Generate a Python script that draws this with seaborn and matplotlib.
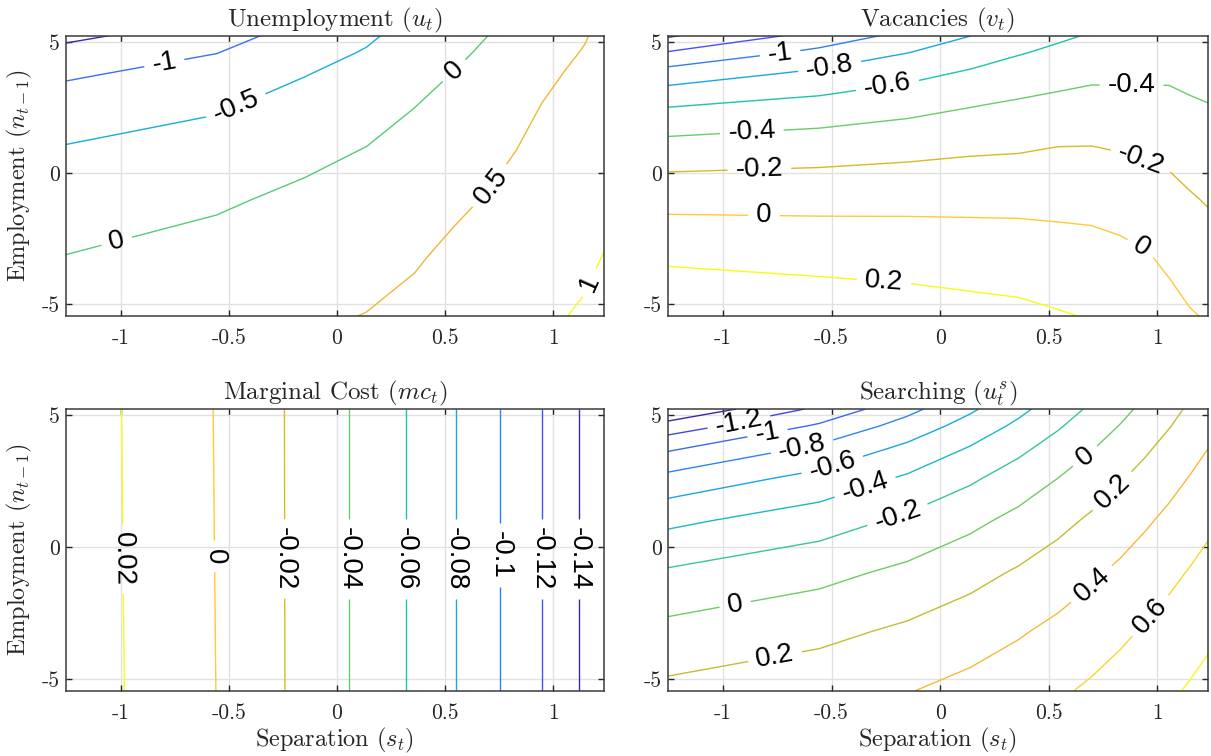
import numpy as np
import matplotlib
matplotlib.use("Agg")
import matplotlib.pyplot as plt
from matplotlib.colors import LinearSegmentedColormap
import seaborn as sns

# ---------------------------------------------------------
# Policy functions on the (separation, lagged employment) grid
# ---------------------------------------------------------
s_grid = [-1.255, -0.556, -0.150, 0.137, 0.360, 0.542, 0.696, 0.830, 0.947, 1.053, 1.148, 1.234]
n_grid = [-5.45, -3.2, -1.0, 1.0, 2.6, 3.8, 4.6, 5.24]
n_grid_mc = [-5.45, 5.24]

# unemployment u_t (rows = n_grid, cols = s_grid)
unemp = [
    [0.194, 0.339, 0.439, 0.511, 0.600, 0.711, 0.780, 0.859, 0.941, 0.994, 1.036, 1.098],
    [0.010, 0.159, 0.277, 0.361, 0.464, 0.579, 0.658, 0.745, 0.836, 0.895, 0.941, 1.008],
    [-0.215, -0.058, 0.087, 0.188, 0.310, 0.431, 0.521, 0.620, 0.722, 0.788, 0.838, 0.912],
    [-0.483, -0.305, -0.123, 0.002, 0.145, 0.276, 0.379, 0.492, 0.607, 0.679, 0.735, 0.817],
    [-0.773, -0.560, -0.331, -0.181, -0.010, 0.132, 0.250, 0.377, 0.504, 0.584, 0.645, 0.734],
    [-1.072, -0.806, -0.521, -0.343, -0.145, 0.011, 0.142, 0.282, 0.420, 0.506, 0.572, 0.667],
    [-1.345, -1.011, -0.672, -0.467, -0.245, -0.079, 0.063, 0.213, 0.360, 0.451, 0.520, 0.620],
    [-1.621, -1.199, -0.801, -0.571, -0.328, -0.152, -0.003, 0.158, 0.313, 0.408, 0.480, 0.583],
]

# vacancies v_t
vac = [
    [0.360, 0.318, 0.292, 0.264, 0.246, 0.215, 0.190, 0.178, 0.146, 0.070, 0.015, -0.014],
    [0.171, 0.143, 0.128, 0.113, 0.103, 0.085, 0.078, 0.051, 0.016, -0.037, -0.084, -0.111],
    [-0.059, -0.058, -0.053, -0.051, -0.050, -0.054, -0.064, -0.086, -0.113, -0.142, -0.182, -0.215],
    [-0.328, -0.291, -0.259, -0.232, -0.221, -0.199, -0.197, -0.213, -0.235, -0.248, -0.287, -0.315],
    [-0.616, -0.534, -0.467, -0.411, -0.373, -0.347, -0.331, -0.335, -0.342, -0.347, -0.374, -0.395],
    [-0.914, -0.759, -0.657, -0.574, -0.514, -0.471, -0.440, -0.437, -0.433, -0.432, -0.458, -0.476],
    [-1.188, -0.949, -0.804, -0.703, -0.614, -0.562, -0.520, -0.525, -0.513, -0.500, -0.520, -0.530],
    [-1.424, -1.130, -0.940, -0.803, -0.698, -0.631, -0.586, -0.591, -0.573, -0.550, -0.565, -0.570],
]

# marginal cost mc_t
mc = [
    [0.0328, -0.0002, -0.0257, -0.0456, -0.0631, -0.0793, -0.0939, -0.1074, -0.1197, -0.1321, -0.1435, -0.1545],
    [0.0322, -0.0008, -0.0257, -0.0456, -0.0631, -0.0793, -0.0939, -0.1074, -0.1197, -0.1321, -0.1435, -0.1545],
]

# searching u^s_t
search = [
    [0.246, 0.322, 0.392, 0.457, 0.517, 0.574, 0.628, 0.679, 0.727, 0.773, 0.817, 0.858],
    [0.058, 0.150, 0.234, 0.310, 0.381, 0.446, 0.508, 0.566, 0.620, 0.671, 0.720, 0.765],
    [-0.171, -0.055, 0.048, 0.140, 0.224, 0.301, 0.372, 0.439, 0.502, 0.559, 0.613, 0.664],
    [-0.444, -0.292, -0.161, -0.047, 0.054, 0.146, 0.230, 0.307, 0.377, 0.443, 0.505, 0.562],
    [-0.739, -0.536, -0.370, -0.230, -0.107, 0.002, 0.097, 0.186, 0.265, 0.340, 0.408, 0.471],
    [-1.044, -0.773, -0.565, -0.395, -0.251, -0.126, -0.016, 0.083, 0.172, 0.254, 0.328, 0.397],
    [-1.321, -0.973, -0.721, -0.523, -0.360, -0.221, -0.100, 0.008, 0.104, 0.191, 0.271, 0.344],
    [-1.601, -1.157, -0.858, -0.633, -0.451, -0.299, -0.168, -0.053, 0.049, 0.142, 0.226, 0.302],
]

u_levels = [-1.5, -1.0, -0.5, 0.0, 0.5, 1.0]
v_levels = [-1.4, -1.2, -1.0, -0.8, -0.6, -0.4, -0.2, 0.0, 0.2]
mc_levels = [-0.14, -0.12, -0.10, -0.08, -0.06, -0.04, -0.02, 0.0, 0.02]
us_levels = [-1.4, -1.2, -1.0, -0.8, -0.6, -0.4, -0.2, 0.0, 0.2, 0.4, 0.6, 0.8]

# label anchor points (data coords) for the inline contour labels
u_lab = [(-0.80, 4.25), (-0.47, 2.6), (0.547, 3.87), (-1.018, -2.62), (0.727, -0.59), (1.176, -4.21)]
v_lab = [(-0.735, 4.44), (-0.506, 3.93), (-0.241, 3.27), (-0.867, 1.55), (0.881, 3.45),
         (-0.832, 0.18), (0.922, 0.47), (-0.811, -1.60), (0.922, -2.88), (-0.259, -4.15)]
mc_lab = [(-0.99, -0.45), (-0.565, -0.35), (-0.237, -0.45), (0.06, -0.45), (0.322, -0.45),
          (0.55, -0.45), (0.757, -0.3), (0.95, -0.45), (1.12, -0.45)]
us_lab = [(-0.926, 4.74), (-0.794, 4.30), (-0.635, 3.80), (-0.494, 3.04), (-0.344, 2.23),
          (-0.194, 1.16), (0.670, 3.42), (-0.944, -2.18), (0.802, 2.04), (-0.758, -4.25),
          (0.705, -1.48), (0.979, -2.68)]

# MATLAB-like parula (level range mapped onto the map)
parula = LinearSegmentedColormap.from_list("parula", [
    (0.000, (0.243, 0.150, 0.660)),
    (0.125, (0.280, 0.330, 0.960)),
    (0.250, (0.190, 0.500, 0.960)),
    (0.375, (0.090, 0.660, 0.890)),
    (0.500, (0.110, 0.760, 0.700)),
    (0.625, (0.400, 0.800, 0.420)),
    (0.750, (0.840, 0.730, 0.140)),
    (0.815, (0.970, 0.720, 0.220)),
    (0.875, (0.990, 0.790, 0.210)),
    (0.940, (0.970, 0.880, 0.150)),
    (1.000, (0.976, 0.984, 0.080))])

sns.set_style("white")
plt.rcParams.update({
    'font.family': 'serif',
    'font.serif': ['cmr10'],
    'mathtext.fontset': 'cm',
    'axes.formatter.use_mathtext': True,
    'axes.unicode_minus': False,
    'axes.edgecolor': '#3a3a3a',
    'axes.linewidth': 1.1,
    'xtick.direction': 'in',
    'ytick.direction': 'in',
    'xtick.top': True,
    'ytick.right': True,
    'xtick.bottom': True,
    'ytick.left': True,
    'xtick.major.size': 4,
    'ytick.major.size': 4,
    'xtick.major.width': 1.0,
    'ytick.major.width': 1.0,
    'xtick.color': '#262626',
    'ytick.color': '#262626',
})


def fmt(v):
    v = round(v, 4)
    return '0' if v == 0 else f'{v:g}'


fig = plt.figure(figsize=(12.11, 7.56), dpi=100)

panels = [
    ([0.0543, 0.5816, 0.4441, 0.3712], unemp, n_grid, u_levels, u_lab, r'Unemployment ($u_t$)', True, False),
    ([0.5512, 0.5816, 0.4466, 0.3712], vac, n_grid, v_levels, v_lab, r'Vacancies ($v_t$)', False, False),
    ([0.0543, 0.0864, 0.4441, 0.3726], mc, n_grid_mc, mc_levels, mc_lab, r'Marginal Cost ($mc_t$)', True, True),
    ([0.5512, 0.0864, 0.4466, 0.3726], search, n_grid, us_levels, us_lab, r'Searching ($u_t^s$)', False, True),
]

for rect, Z, ygrid, levels, lab, title, ylab, xlab in panels:
    ax = fig.add_axes(rect)
    Z = np.array(Z)
    cs = ax.contour(s_grid, ygrid, Z, levels=levels, cmap=parula, linewidths=1.0)
    with plt.rc_context({'font.family': 'Liberation Sans'}):
        ax.clabel(cs, inline=True, inline_spacing=8, fmt=fmt, fontsize=20,
                  colors='k', manual=lab)

    ax.set_xlim(-1.255, 1.234)
    ax.set_ylim(-5.45, 5.24)
    ax.set_xticks([-1, -0.5, 0, 0.5, 1])
    ax.set_xticklabels(['-1', '-0.5', '0', '0.5', '1'])
    ax.set_yticks([-5, 0, 5])
    ax.set_yticklabels(['-5', '0', '5'])
    ax.tick_params(axis='x', labelsize=15.5, pad=9)
    ax.tick_params(axis='y', labelsize=15.5, pad=4)
    ax.grid(True, color='#e1e1e1', linewidth=1.0)
    ax.set_axisbelow(True)
    for sp in ax.spines.values():
        sp.set_visible(True)
    ax.set_title(title, fontsize=18, pad=7)
    if ylab:
        ax.set_ylabel(r'Employment ($n_{t-1}$)', fontsize=17.5, labelpad=6)
    if xlab:
        ax.set_xlabel(r'Separation ($s_t$)', fontsize=17.5, labelpad=2)

fig.savefig("out.png", dpi=100)
